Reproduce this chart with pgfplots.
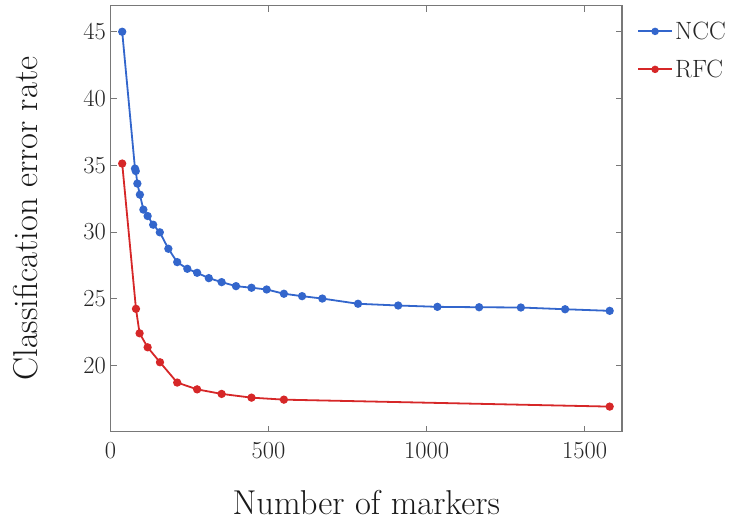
\documentclass[border=0pt]{standalone}
\usepackage{pgfplots}
\pgfplotsset{compat=1.18}
\definecolor{ncc}{RGB}{51,102,204}
\definecolor{rfc}{RGB}{214,39,40}
\definecolor{frame}{RGB}{120,120,120}
\begin{document}
\begin{tikzpicture}
\useasboundingbox (0,0) rectangle (731pt,520pt);
\begin{axis}[
  at={(110.5pt,88.3pt)}, anchor=south west,
  scale only axis, width=511.5pt, height=426pt,
  xmin=0, xmax=1618, ymin=15.05, ymax=46.95,
  xtick={0,500,1000,1500}, ytick={20,25,30,35,40,45},
  tick align=inside, major tick length=6pt,
  axis line style={frame, line width=1.2pt},
  every tick/.style={frame, line width=1pt},
  /pgf/number format/assume math mode=true,
  /pgf/number format/set thousands separator={},
  tick label style={font=\fontsize{24.5}{29}\selectfont, text=black!85},
  xticklabel style={yshift=-7pt},
  yticklabel style={xshift=-1pt},
  xlabel={Number of markers},
  ylabel={Classification error rate},
  every axis x label/.style={at={(axis description cs:0.5,0)}, anchor=north, inner sep=0pt, yshift=-58pt,
    font=\fontsize{34.5}{40}\selectfont, text=black!90},
  every axis y label/.style={at={(axis description cs:-0.1906,0.5)}, rotate=90, anchor=north, inner sep=0pt,
    font=\fontsize{34.5}{40}\selectfont, text=black!90},
  legend style={draw=none, fill=none, at={(axis description cs:1,1)}, anchor=north west, xshift=12pt, yshift=-12pt,
    font=\fontsize{25}{29}\selectfont, text=black!85, row sep=15pt, legend cell align=left},
  legend image code/.code={\draw[#1] (0pt,0pt) -- (34pt,0pt); \draw[#1, mark size=2.8pt, mark repeat=1] plot coordinates {(17pt,0pt)};},
]
\addplot[ncc, line width=1.8pt, mark=*, mark size=3.2pt, mark options={solid}] coordinates {
(37,45.0) (77.5,34.75) (80,34.57) (85,33.63) (93,32.8) (104,31.68) (117.5,31.2) (135,30.55) (156,29.98) (183,28.75) (211,27.75) (243,27.25) (274,26.95) (311,26.55) (351.5,26.25) (397,25.95) (446,25.83) (494,25.7) (548.5,25.38) (606,25.2) (670,25.02) (783,24.63) (910,24.5) (1034,24.4) (1166,24.37) (1298,24.35) (1438,24.22) (1579,24.1)
};
\addlegendentry{NCC}
\addplot[rfc, line width=1.8pt, mark=*, mark size=3.2pt, mark options={solid}] coordinates {
(37,35.13) (80.6,24.25) (92,22.42) (117.5,21.37) (156.5,20.25) (211,18.73) (274,18.22) (351.5,17.88) (446,17.6) (548.5,17.45) (1579,16.93)
};
\addlegendentry{RFC}
\end{axis}
\end{tikzpicture}
\end{document}
